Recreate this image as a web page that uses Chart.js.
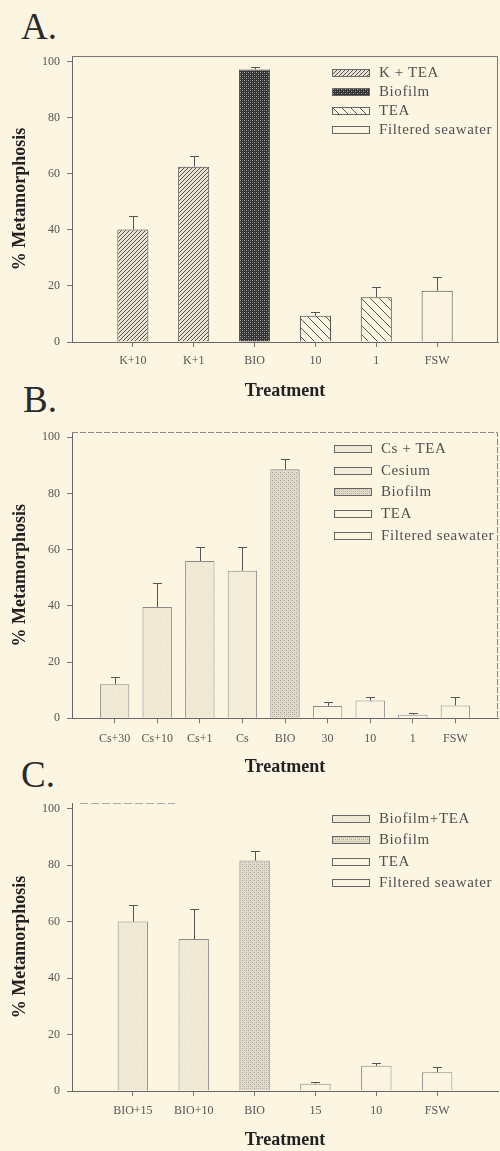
<!DOCTYPE html>
<html>
<head>
<meta charset="utf-8">
<script src="https://cdn.jsdelivr.net/npm/chart.js@4"></script>
<style>
  html, body { margin: 0; padding: 0; background: #fcf5e2; }
  #wrap { position: relative; width: 500px; height: 1151px; overflow: hidden; background: #fcf5e2; font-family: "Liberation Serif", serif; }
  canvas.ch { position: absolute; left: 0; }
  .plabel { position: absolute; font-family: "Liberation Serif", serif; font-size: 37px; line-height: 37px; color: #2a2a2a; }
  .lg { position: absolute; font-family: "Liberation Serif", serif; font-size: 15px; line-height: 15px; letter-spacing: 0.6px; color: #505050; white-space: nowrap; }
  .sw { position: absolute; width: 36px; height: 6px; border: 1px solid #666; }
</style>
</head>
<body>
<div id="wrap">
  <div class="plabel" style="left:21px;top:8px;">A.</div>
  <div class="plabel" style="left:23px;top:381px;">B.</div>
  <div class="plabel" style="left:21px;top:756px;">C.</div>
  <canvas class="ch" id="cA" width="500" height="400" style="top:0px;width:500px;height:400px;"></canvas>
  <canvas class="ch" id="cB" width="500" height="380" style="top:400px;width:500px;height:380px;"></canvas>
  <canvas class="ch" id="cC" width="500" height="381" style="top:770px;width:500px;height:381px;"></canvas>
</div>
<script>
// ---------- DATA ----------
const catsA   = ['', 'K+10', 'K+1', 'BIO', '10', '1', 'FSW', ''];
const valsA   = [null, 40.2, 62.6, 97.3, 9.4, 16.0, 18.3, null];
const errA    = [null, 4.8, 3.8, 1.0, 1.4, 3.5, 5.0, null];
const groupA  = [null, 0, 0, 1, 2, 2, 3, null];
const legendA = ['K + TEA', 'Biofilm', 'TEA', 'Filtered seawater'];

const catsB   = ['', 'Cs+30', 'Cs+10', 'Cs+1', 'Cs', 'BIO', '30', '10', '1', 'FSW', ''];
const valsB   = [null, 12.1, 39.6, 56.0, 52.5, 88.6, 4.4, 6.3, 1.3, 4.6, null];
const errB    = [null, 2.7, 8.5, 4.9, 8.4, 3.8, 1.4, 1.4, 0.5, 2.9, null];
const groupB  = [null, 0, 0, 0, 1, 2, 3, 3, 3, 4, null];
const legendB = ['Cs +  TEA', 'Cesium', 'Biofilm', 'TEA', 'Filtered seawater'];

const catsC   = ['', 'BIO+15', 'BIO+10', 'BIO', '15', '10', 'FSW', ''];
const valsC   = [null, 60.0, 53.8, 81.6, 2.6, 8.9, 6.6, null];
const errC    = [null, 6.0, 10.7, 3.3, 0.7, 0.9, 1.8, null];
const groupC  = [null, 0, 0, 1, 2, 2, 3, null];
const legendC = ['Biofilm+TEA', 'Biofilm', 'TEA', 'Filtered seawater'];

const yTicks = [0, 20, 40, 60, 80, 100];

// ---------- PATTERNS ----------
const BG = '#fcf5e2';
function tile(w, h, draw) {
  const c = document.createElement('canvas');
  c.width = w; c.height = h;
  const g = c.getContext('2d');
  draw(g, w, h);
  return c;
}
const tiles = {
  fineHatch: tile(4, 4, (g) => {
    g.fillStyle = '#e8e2cf'; g.fillRect(0, 0, 4, 4);
    g.fillStyle = '#555';
    for (let i = 0; i < 4; i++) g.fillRect(3 - i, i, 1, 1);
  }),
  darkCheck: tile(4, 4, (g) => {
    g.fillStyle = '#333'; g.fillRect(0, 0, 4, 4);
    g.fillStyle = '#a8a8a8'; g.fillRect(0, 0, 1, 1); g.fillRect(2, 2, 1, 1);
    g.fillStyle = '#6a6a6a'; g.fillRect(2, 0, 1, 1); g.fillRect(0, 2, 1, 1);
  }),
  wideBack: tile(9, 9, (g) => {
    g.fillStyle = BG; g.fillRect(0, 0, 9, 9);
    g.fillStyle = '#555';
    for (let i = 0; i < 9; i++) g.fillRect(i, i, 1, 1);
  }),
  plain: tile(4, 4, (g) => { g.fillStyle = '#fbf4e2'; g.fillRect(0, 0, 4, 4); }),
  lightFill: tile(6, 6, (g) => {
    g.fillStyle = '#efe9d6'; g.fillRect(0, 0, 6, 6);
    g.fillStyle = '#e4ddc9'; g.fillRect(5, 0, 1, 1);
  }),
  lightFill2: tile(4, 4, (g) => { g.fillStyle = '#f3ecd9'; g.fillRect(0, 0, 4, 4); }),
  stipple: tile(4, 4, (g) => {
    g.fillStyle = '#e2dccb'; g.fillRect(0, 0, 4, 4);
    g.fillStyle = '#a5a29a'; g.fillRect(0, 0, 1, 1); g.fillRect(2, 2, 1, 1);
    g.fillStyle = '#c6c2b6'; g.fillRect(2, 0, 1, 1); g.fillRect(0, 2, 1, 1);
  })
};
function pat(ctx, name) { return ctx.createPattern(tiles[name], 'repeat'); }

// ---------- PLUGINS ----------
const errorBars = {
  id: 'errorBars',
  afterDatasetsDraw(chart, args, opts) {
    const ctx = chart.ctx, ys = chart.scales.y;
    const vals = opts.vals, errs = opts.errs;
    ctx.save();
    ctx.strokeStyle = opts.color || '#555';
    ctx.lineWidth = 1;
    chart.data.datasets.forEach((ds, di) => {
      const meta = chart.getDatasetMeta(di);
      meta.data.forEach((el, i) => {
        if (ds.data[i] == null || errs[i] == null) return;
        const x = Math.round(el.x) + 0.5;
        const y0 = ys.getPixelForValue(vals[i]);
        const y1 = Math.round(ys.getPixelForValue(vals[i] + errs[i])) + 0.5;
        ctx.beginPath();
        ctx.moveTo(x, y0); ctx.lineTo(x, y1);
        ctx.moveTo(x - 4.5, y1); ctx.lineTo(x + 4.5, y1);
        ctx.stroke();
      });
    });
    ctx.restore();
  }
};
const frame = {
  id: 'frame',
  afterDraw(chart, args, opts) {
    const a = chart.chartArea, ctx = chart.ctx;
    ctx.save();
    ctx.strokeStyle = opts.color || '#777';
    ctx.lineWidth = 1;
    if (opts.dash) ctx.setLineDash(opts.dash);
    ctx.beginPath();
    if (opts.full) {
      ctx.moveTo(a.left, Math.round(a.top) + 0.5);
      ctx.lineTo(Math.round(a.right) - 0.5, Math.round(a.top) + 0.5);
      ctx.lineTo(Math.round(a.right) - 0.5, a.bottom);
    } else if (opts.partial) {
      const yy = Math.round(a.top) + 0.5;
      ctx.moveTo(a.left + opts.partial[0], yy);
      ctx.lineTo(a.left + opts.partial[1], yy);
    }
    ctx.stroke();
    ctx.restore();
  }
};

// ---------- CHART BUILDER ----------
function build(id, cfg) {
  const el = document.getElementById(id);
  const ctx = el.getContext('2d');
  const datasets = cfg.legend.map((lab, g) => ({
    label: lab,
    data: cfg.vals.map((v, i) => (cfg.groups[i] === g ? v : null)),
    backgroundColor: pat(ctx, cfg.fills[g]),
    borderColor: cfg.border,
    borderWidth: 1,
    borderSkipped: 'bottom'
  }));
  return new Chart(el, {
    type: 'bar',
    data: { labels: cfg.cats, datasets },
    plugins: [errorBars, frame],
    options: {
      responsive: false,
      animation: false,
      layout: { padding: { top: cfg.top, right: 2, left: 0, bottom: 0 } },
      datasets: { bar: { barPercentage: cfg.barPct, categoryPercentage: 1, skipNull: true } },
      plugins: {
        legend: { display: false },
        tooltip: { enabled: false },
        errorBars: { vals: cfg.vals, errs: cfg.errs, color: '#555' },
        frame: cfg.frame
      },
      scales: {
        x: {
          stacked: true,
          offset: false,
          afterFit: (s) => { s.height = cfg.xH; s.paddingLeft = 0; s.paddingRight = 0; },
          grid: {
            display: true, drawOnChartArea: false, drawTicks: true, tickLength: 5, offset: false,
            tickColor: (c) => (c.tick && c.tick.label ? '#777' : 'rgba(0,0,0,0)')
          },
          border: { display: true, color: '#666', width: 1 },
          ticks: { autoSkip: false, maxRotation: 0, padding: cfg.xPad, color: '#555',
                   font: { family: 'Liberation Serif', size: 12 } },
          title: { display: true, text: 'Treatment', color: '#222',
                   font: { family: 'Liberation Serif', size: 18, weight: 'bold', lineHeight: 1 },
                   padding: { top: 0, bottom: cfg.tPad } }
        },
        y: {
          stacked: true,
          min: 0, max: cfg.ymax,
          afterFit: (s) => { s.width = 72; },
          afterBuildTicks: (s) => { s.ticks = yTicks.map((v) => ({ value: v })); },
          grid: { display: true, drawOnChartArea: false, drawTicks: true, tickLength: 5, color: '#777' },
          border: { display: true, color: '#666', width: 1 },
          ticks: { padding: 7, color: '#555', font: { family: 'Liberation Serif', size: 12 } },
          title: { display: true, text: '% Metamorphosis', color: '#222',
                   font: { family: 'Liberation Serif', size: 18, weight: 'bold', lineHeight: 1 },
                   padding: { top: 11, bottom: 0 } }
        }
      }
    }
  });
}

const chA = build('cA', {
  cats: catsA, vals: valsA, errs: errA, groups: groupA, legend: legendA,
  fills: ['fineHatch', 'darkCheck', 'wideBack', 'plain'], border: '#444',
  top: 56, xH: 58, xPad: 7, tPad: 0, ymax: 102.1, barPct: 0.51,
  frame: { full: true, color: '#777' }
});
const chB = build('cB', {
  cats: catsB, vals: valsB, errs: errB, groups: groupB, legend: legendB,
  fills: ['lightFill', 'lightFill2', 'stipple', 'plain', 'plain'], border: '#8a8a8a',
  top: 32, xH: 61.7, xPad: 8, tPad: 4, ymax: 101.9, barPct: 0.69,
  frame: { full: true, color: '#888', dash: [6, 2] }
});
const chC = build('cC', {
  cats: catsC, vals: valsC, errs: errC, groups: groupC, legend: legendC,
  fills: ['lightFill', 'stipple', 'plain', 'plain'], border: '#8a8a8a',
  top: 33, xH: 60, xPad: 8, tPad: 1.5, ymax: 102, barPct: 0.5,
  frame: { partial: [8, 103], color: '#aaa', dash: [8, 3] }
});

// ---------- HTML LEGENDS ----------
function legend(labels, fills, rowYs, boxX, textX) {
  const wrap = document.getElementById('wrap');
  labels.forEach((lab, i) => {
    const sw = document.createElement('div');
    sw.className = 'sw';
    sw.style.left = boxX + 'px';
    sw.style.top = (rowYs[i] - 4) + 'px';
    sw.style.backgroundImage = 'url(' + tiles[fills[i]].toDataURL() + ')';
    wrap.appendChild(sw);
    const t = document.createElement('div');
    t.className = 'lg';
    t.textContent = lab;
    t.style.left = textX + 'px';
    t.style.top = (rowYs[i] - 8) + 'px';
    wrap.appendChild(t);
  });
}
legend(legendA, ['fineHatch', 'darkCheck', 'wideBack', 'plain'], [73, 92, 111, 130], 332, 379);
legend(legendB, ['lightFill', 'lightFill2', 'stipple', 'plain', 'plain'], [449, 471, 492, 514, 536], 334, 381);
legend(legendC, ['lightFill', 'stipple', 'plain', 'plain'], [819, 840, 862, 883], 332, 379);
</script>
</body>
</html>
